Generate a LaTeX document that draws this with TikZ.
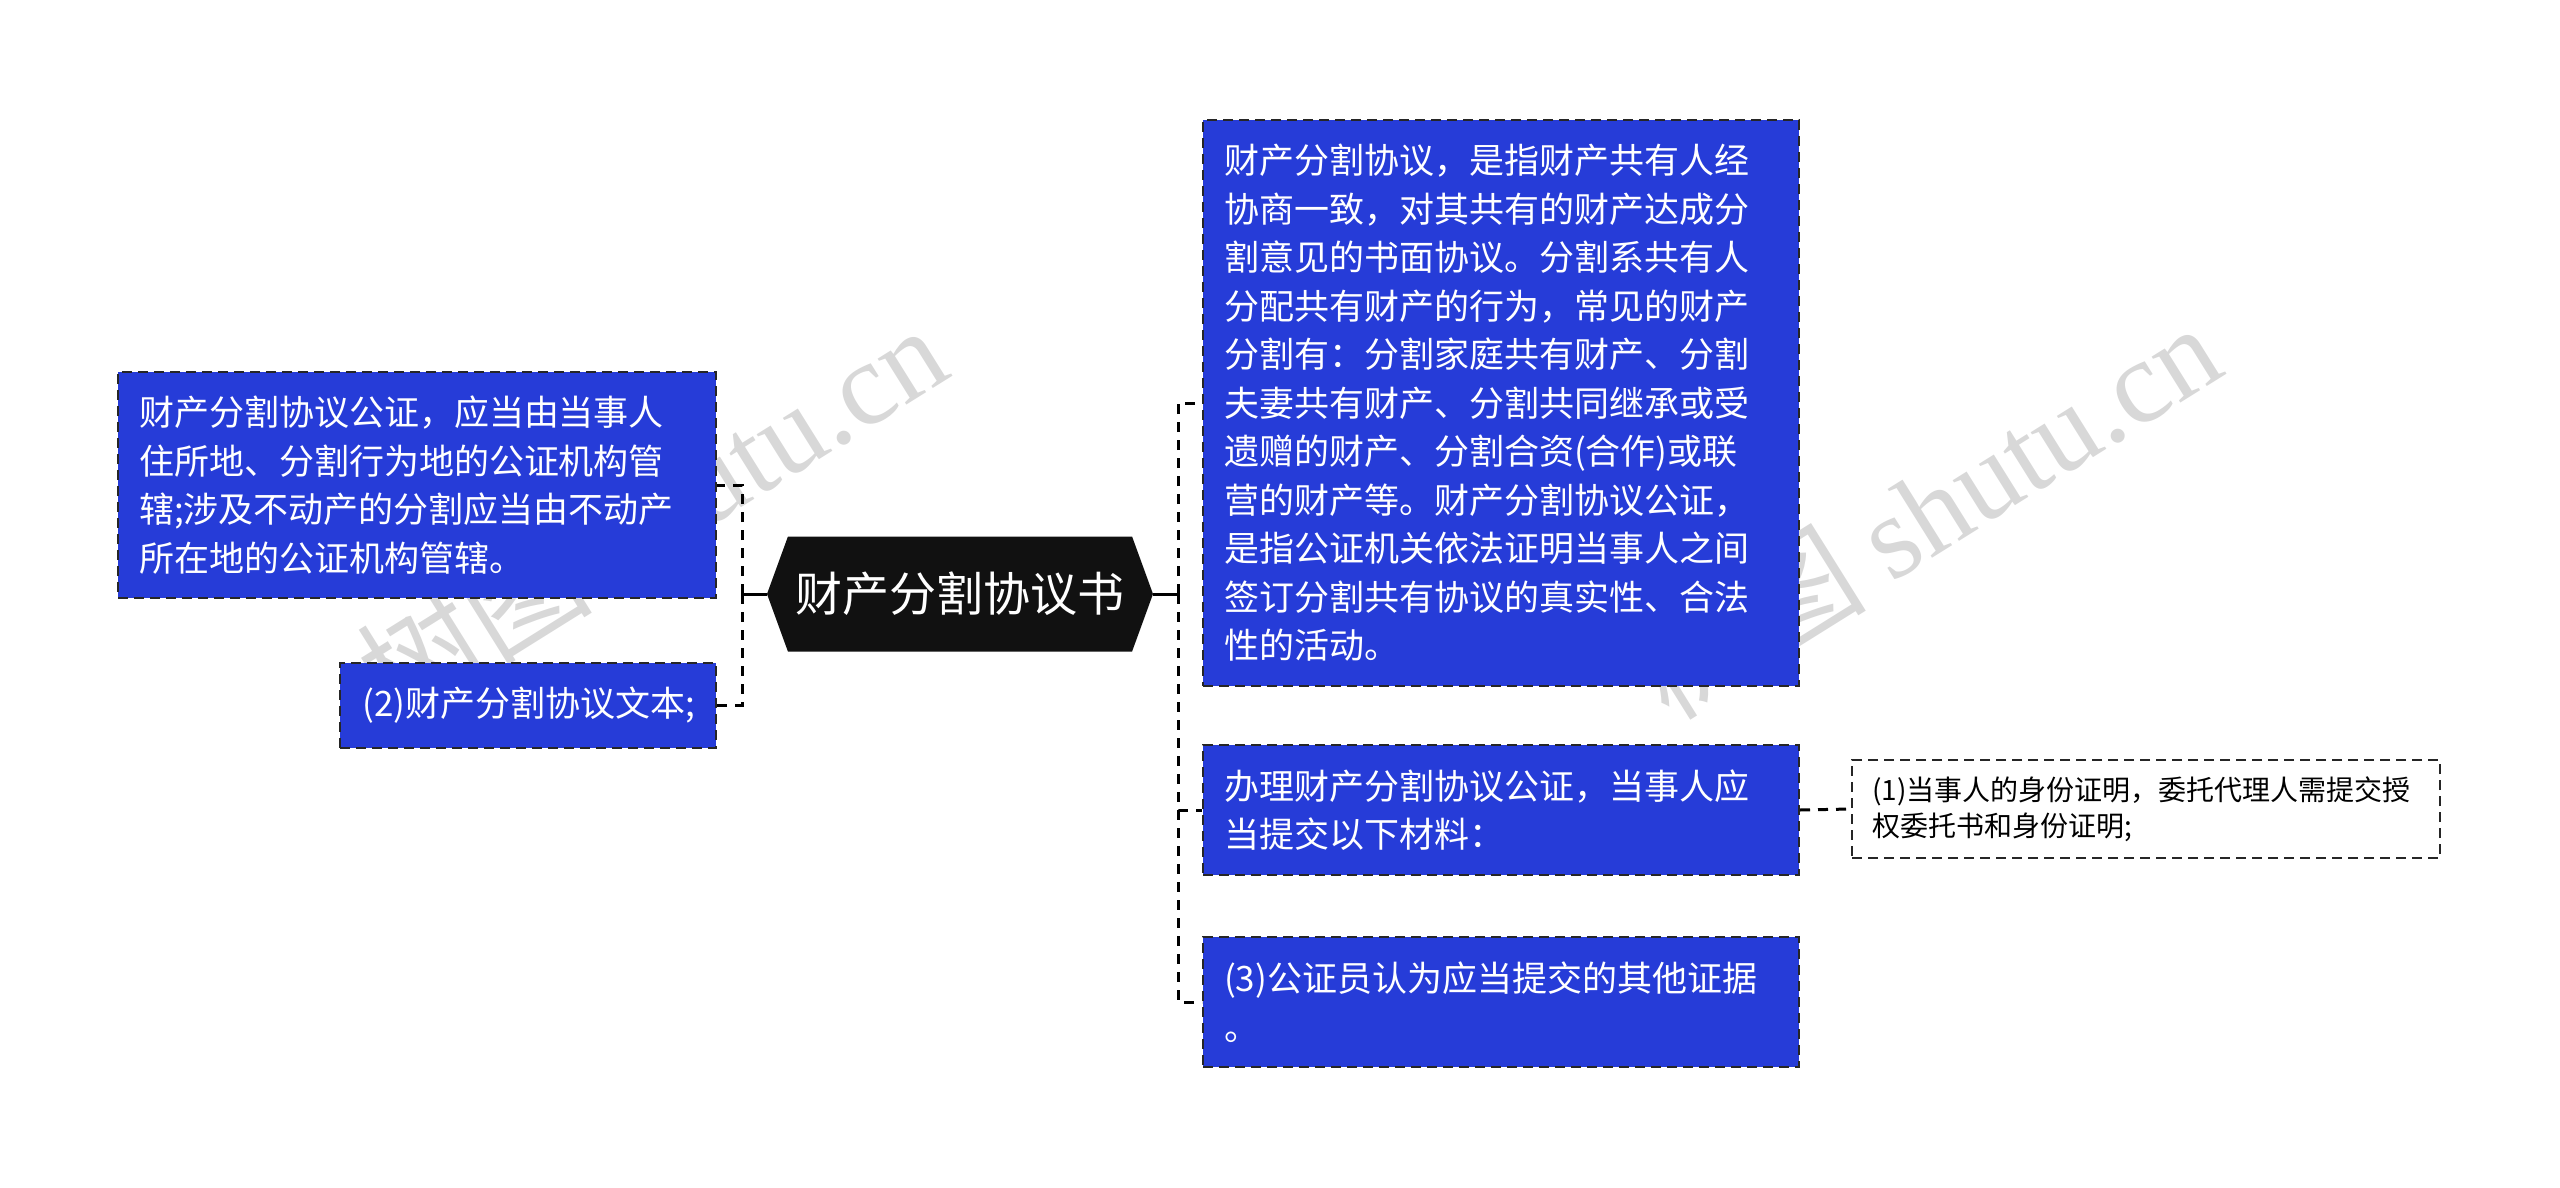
\documentclass[tikz,border=0pt]{standalone}
\usepackage{fontspec}
\setmainfont{Noto Sans CJK SC}
\newfontfamily\wmfont{Liberation Serif}
\usetikzlibrary{shapes.symbols}
\definecolor{boxblue}{RGB}{38,60,216}
\definecolor{hexblack}{RGB}{17,17,17}
\definecolor{wmgray}{RGB}{190,190,190}

\begin{document}
\begin{tikzpicture}[x=1pt,y=-1pt]
\tikzstyle{every node}+=[inner sep=0pt]
\tikzstyle{bluebox}=[draw=black!85, line width=2pt, dash pattern=on 10pt off 6pt, fill=boxblue, text=white, align=left, inner xsep=21pt, font=\fontsize{35}{48.5}\selectfont]
\tikzstyle{whitebox}=[draw=black!85, line width=2pt, dash pattern=on 10pt off 6pt, fill=white, text=black, align=left, inner xsep=20pt, font=\fontsize{28}{36}\selectfont]
\tikzstyle{rootnode}=[shape=signal, signal to=west and east, signal pointer angle=140, fill=hexblack, text=white, minimum width=386pt, minimum height=115pt, font=\fontsize{47}{52}\selectfont]
\tikzstyle{trunk}=[black, line width=3pt]
\tikzstyle{branch}=[black, line width=3pt, dash pattern=on 10pt off 8pt]
\tikzstyle{watermark}=[text=wmgray, opacity=0.6, font=\fontsize{118}{118}\selectfont]
\useasboundingbox (0,0) rectangle (2560,1188);

% watermark
\node [watermark, rotate=32] (wm1) at (651,512) {树图 {\wmfont shutu.cn}};
\node [watermark, rotate=32] (wm2) at (1925,510) {树图 {\wmfont shutu.cn}};

% root
\node [rootnode] (root) at (960,594) {财产分割协议书};

% left side
\node [bluebox, text width=556pt, minimum height=226pt] (notary) at (417,485) {财产分割协议公证，应当由当事人\\住所地、分割行为地的公证机构管\\辖;涉及不动产的分割应当由不动产\\所在地的公证机构管辖。};
\node [bluebox, text width=334pt, align=right, minimum height=85pt] (text2) at (528,705) {(2)财产分割协议文本;};

% right side
\node [bluebox, text width=554pt, minimum height=566pt] (define) at (1501,403) {财产分割协议，是指财产共有人经\\协商一致，对其共有的财产达成分\\割意见的书面协议。分割系共有人\\分配共有财产的行为，常见的财产\\分割有：分割家庭共有财产、分割\\夫妻共有财产、分割共同继承或受\\遗赠的财产、分割合资(合作)或联\\营的财产等。财产分割协议公证，\\是指公证机关依法证明当事人之间\\签订分割共有协议的真实性、合法\\性的活动。};
\node [bluebox, text width=554pt, minimum height=130pt] (apply) at (1501,810) {办理财产分割协议公证，当事人应\\当提交以下材料：};
\node [bluebox, text width=554pt, minimum height=130pt] (other3) at (1501,1002) {(3)公证员认为应当提交的其他证据\\。};
\node [whitebox, text width=548pt, minimum height=98pt] (ident1) at (2146,809) {(1)当事人的身份证明，委托代理人需提交授\\权委托书和身份证明;};

% connectors
\coordinate (lspine) at (742,594);
\coordinate (rspine) at (1178,594);
\draw [trunk] (root.west) -- (lspine);
\draw [trunk] (root.east) -- (rspine);
\draw [branch] (lspine) |- (notary.east);
\draw [branch] (lspine) |- (text2.east);
\draw [branch] (rspine) |- (define.west);
\draw [branch] (rspine) |- (apply.west);
\draw [branch] (rspine) |- (other3.west);
\draw [branch] (apply.east) -- (ident1.west);
\end{tikzpicture}
\end{document}
